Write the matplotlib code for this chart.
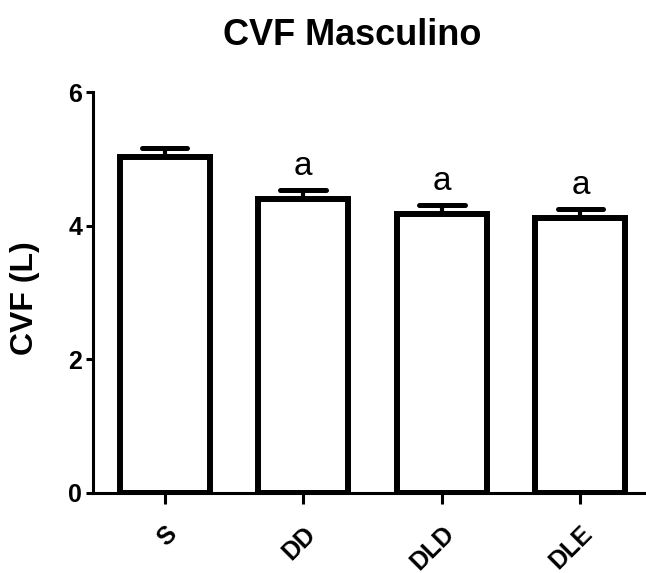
import matplotlib
matplotlib.use("Agg")
import matplotlib.pyplot as plt
import numpy as np

categories = ["S", "DD", "DLD", "DLE"]
means = [5.03, 4.40, 4.17, 4.12]
sems = [0.14, 0.14, 0.14, 0.13]
annotations = ["", "a", "a", "a"]
yticks = [0, 2, 4, 6]

plt.rcParams['font.family'] = ['Liberation Sans', 'DejaVu Sans']

W, H = 646, 573
fig = plt.figure(figsize=(W / 100, H / 100), dpi=100)
ax = fig.add_axes([93.3 / W, 80.5 / H, 1 - 93.3 / W, (492.5 - 92.3) / H])

x = np.arange(len(categories))
ax.bar(x, means, width=0.65, color='white', edgecolor='black', linewidth=4.3, zorder=3)

# error bars (upper only)
ax.vlines(x, means, np.array(means) + np.array(sems), color='black', linewidth=3.0, zorder=2)
caps = ax.hlines(np.array(means) + np.array(sems), x - 0.165, x + 0.165, color='black',
                 linewidth=3.6, zorder=2)
caps.set_capstyle('round')

for xi, m, s, t in zip(x, means, sems, annotations):
    if t:
        ax.annotate(t, xy=(xi, m + s), xytext=(0, 10.5), textcoords='offset points',
                    ha='center', va='baseline', fontsize=24)

ax.set_xlim(-0.514, 3.473)
ax.set_ylim(0, 6)
ax.set_yticks(yticks)
ax.set_yticklabels([str(v) for v in yticks], fontsize=18, fontweight='bold')
ax.set_xticks(x)
ax.set_xticklabels(categories, fontsize=18, fontweight='bold', rotation=45,
                   ha='right', va='top', rotation_mode='anchor')

for side in ['top', 'right']:
    ax.spines[side].set_visible(False)
for side in ['left', 'bottom']:
    ax.spines[side].set_linewidth(2.2)
ax.tick_params(axis='y', direction='out', length=5, width=2.2, pad=3)
ax.tick_params(axis='x', direction='out', length=8, width=2.2, pad=13)

fig.text(352 / W, 1 - 45 / H, "CVF Masculino", ha='center', va='baseline',
         fontsize=26, fontweight='bold')
fig.text(25 / W, 1 - 298 / H, "CVF (L)", ha='center', va='center', rotation=90,
         fontsize=23, fontweight='bold')

fig.savefig("out.png", dpi=100)
